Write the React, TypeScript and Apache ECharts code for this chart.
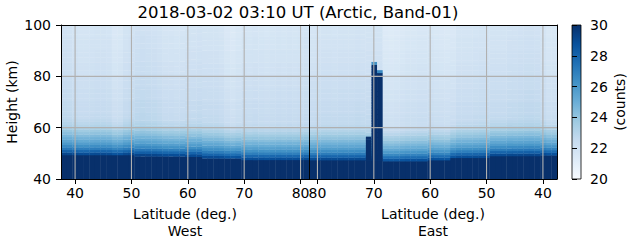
import React, { useEffect, useRef } from "react";
import * as echarts from "echarts";

// Latitude bins (deg.), 1-degree columns, same for both halves
const latitudes = [38, 39, 40, 41, 42, 43, 44, 45, 46, 47, 48, 49, 50, 51, 52, 53, 54, 55, 56, 57, 58, 59,
  60, 61, 62, 63, 64, 65, 66, 67, 68, 69, 70, 71, 72, 73, 74, 75, 76, 77, 78, 79, 80, 81];

// Height (km) where the saturated (30 counts) layer ends, per latitude bin
const westFloor = [49.4, 49.4, 49.4, 49.4, 49.4, 49.4, 49.4, 49.4, 49.4, 49.4, 49.4, 49.4, 49.4,
  48.9, 48.9, 48.9, 48.9, 48.9, 48.9, 48.9, 48.9, 48.9,
  48.7, 48.7, 48.7,
  48.1, 48.1, 48.1, 48.1, 48.1, 48.1, 48.1,
  47.5, 47.5, 47.5, 47.5, 47.5, 47.5, 47.5, 47.5, 47.5, 47.5, 47.5, 47.5];
const eastFloor = [49.3, 49.3, 49.3,
  49.0, 49.0, 49.0, 49.0, 49.0, 49.0, 49.0, 49.0, 49.0,
  48.3, 48.3, 48.3, 48.3, 48.3, 48.3, 48.3,
  47.4, 47.4, 47.4, 47.4,
  47.0, 47.0, 47.0, 47.0, 47.0, 47.0, 47.0, 47.0,
  47.2, 47.2, 47.2,
  47.4, 47.4, 47.4, 47.4, 47.4, 47.4, 47.4, 47.4, 47.4, 47.4];

// Column-to-column brightness shift (counts), per latitude bin
const westShade = [0.15, 0.1, 0.0, -0.1, -0.1, -0.05, 0.0, 0.0, -0.05, -0.35, -0.3, 0.0, 0.1, 0.2, 0.25,
  0.2, 0.15, 0.05, -0.1, -0.1, -0.15, -0.1, 0.0, 0.0, 0.05, 0.0, 0.0, 0.0, -0.1, -0.35, -0.45, -0.3,
  -0.1, -0.15, -0.1, -0.15, -0.2, -0.15, -0.1, -0.15, -0.1, -0.15, -0.1, -0.05];
const eastShade = [-0.3, -0.3, -0.1, 0.15, 0.2, 0.2, 0.15, 0.1, 0.1, 0.0, 0.0, 0.0, 0.0, 0.0, -0.05,
  -0.1, -0.1, -0.1, -0.35, -0.4, -0.35, -0.3, -0.2, -0.25, -0.25, -0.3, -0.3, -0.4, -0.5, -0.55, -0.5,
  0.0, 0.0, 0.0, 0.0, 0.05, 0.0, 0.0, 0.0, -0.05, 0.0, 0.0, -0.05, -0.1];

// Counts in the 1-km rows just above the saturated layer (index = km above it)
const gradientAboveFloor = [29.0, 28.0, 27.1, 26.4, 25.8, 25.3, 24.9, 24.5, 24.1, 23.8, 23.4, 23.1, 22.9, 22.75, 22.6, 22.5];

// Background counts per 1-km height row, 40 .. 99 km
const backgroundByHeight = [
  22.7, 22.7, 22.7, 22.7, 22.7, 22.7, 22.7, 22.7, 22.7, 22.7,
  22.7, 22.7, 22.7, 22.7, 22.7, 22.7, 22.7, 22.7, 22.7, 22.7,
  22.6, 22.6, 22.6, 22.6, 22.6, 22.5, 22.5, 22.5, 22.5, 22.5,
  22.35, 22.35, 22.35, 22.35, 22.35, 22.25, 22.25, 22.25, 22.25, 22.25,
  22.1, 22.1, 22.1, 22.1, 22.1, 22.0, 22.0, 22.0, 22.0, 22.0,
  21.9, 21.9, 21.9, 21.9, 21.9, 21.8, 21.8, 21.8, 21.8, 21.8];

// Saturated spike near 70 deg East
const spikeLats = [71, 70, 69];
const spikeTops = [56.5, 85.6, 82.4];
const spikeCaps = [30, 26.3, 26.6];

const latTicks = [40, 50, 60, 70, 80];
const heightGridLines = [60, 80];
const colorbarTicks = [20, 22, 24, 26, 28, 30];

const blues = ["#f7fbff", "#deebf7", "#c6dbef", "#9ecae1", "#6baed6", "#4292c6", "#2171b5", "#08519c", "#08306b"];

const FONT = "DejaVu Sans";

function buildCells(floors: number[], shades: number[], sLats: number[], sTops: number[], sCaps: number[]) {
  const cells: number[][] = [];
  latitudes.forEach((lat, i) => {
    const floor = floors[i];
    const shade = shades[i];
    cells.push([lat, 40, floor, 30]);
    let k = 0;
    for (let b = floor; b < 100; b += 1, k++) {
      const t = Math.min(b + 1, 100);
      const g = k < gradientAboveFloor.length ? gradientAboveFloor[k] : 0;
      const bg = backgroundByHeight[Math.min(59, Math.floor(b) - 40)];
      let v = Math.max(g, bg) + shade;
      v = Math.max(20, Math.min(30, v));
      cells.push([lat, b, t, v]);
    }
    const si = sLats.indexOf(lat);
    if (si >= 0) {
      cells.push([lat, floor, sTops[si] - 1, 30]);
      cells.push([lat, sTops[si] - 1, sTops[si], sCaps[si]]);
    }
  });
  return cells;
}

const westCells = buildCells(westFloor, westShade, [], [], []);
const eastCells = buildCells(eastFloor, eastShade, spikeLats, spikeTops, spikeCaps);

const cellRender = (params: any, api: any) => {
  const lat = api.value(0);
  const b = api.value(1);
  const t = api.value(2);
  const p1 = api.coord([lat - 0.5, t]);
  const p2 = api.coord([lat + 0.5, b]);
  const x = Math.min(p1[0], p2[0]);
  const y = Math.min(p1[1], p2[1]);
  return {
    type: "rect",
    shape: { x, y, width: Math.abs(p2[0] - p1[0]) + 0.4, height: Math.abs(p2[1] - p1[1]) + 0.4 },
    style: { fill: api.visual("color") },
  };
};

const gridLineRender = (params: any, api: any) => {
  const kind = api.value(0);
  const v = api.value(1);
  let a, c;
  if (kind === 0) {
    a = api.coord([v, 40]);
    c = api.coord([v, 100]);
  } else {
    a = api.coord([37.5, v]);
    c = api.coord([81.5, v]);
  }
  return {
    type: "line",
    shape: { x1: a[0], y1: a[1], x2: c[0], y2: c[1] },
    style: { stroke: "#b0b0b0", lineWidth: 1.1 },
  };
};

const gridLineData = [
  ...latTicks.map((v) => [0, v]),
  ...heightGridLines.map((v) => [1, v]),
];

export default function App() {
  const ref = useRef<HTMLDivElement>(null);

  useEffect(() => {
    document.body.style.margin = "0";
    if (!ref.current) return;
    const chart = echarts.init(ref.current, undefined, { renderer: "svg" });

    const labelStyle = { color: "#000", fontFamily: FONT, fontSize: 14 };
    const lineOnly = (extra: any) => ({
      type: "value",
      min: 37.5,
      max: 81.5,
      axisLine: { show: true, lineStyle: { color: "#000", width: 1 } },
      axisTick: { show: false },
      axisLabel: { show: false },
      splitLine: { show: false },
      z: 10,
      ...extra,
    });

    const latAxis = (gridIndex: number, inverse: boolean) => ({
      type: "value",
      gridIndex,
      min: 37.5,
      max: 81.5,
      inverse,
      position: "bottom",
      axisLine: { show: true, onZero: false, lineStyle: { color: "#000", width: 1 } },
      axisTick: { show: true, length: 5, customValues: latTicks, lineStyle: { color: "#000" } },
      axisLabel: { show: true, margin: 7, customValues: latTicks, ...labelStyle },
      splitLine: { show: false },
      z: 10,
    });

    const option: any = {
      animation: false,
      backgroundColor: "#fff",
      grid: [
        { left: 61, top: 25, width: 248, height: 154 },
        { left: 309, top: 25, width: 248, height: 154 },
        { left: 572, top: 25, width: 9, height: 154 },
      ],
      xAxis: [
        latAxis(0, false),
        latAxis(1, true),
        lineOnly({ gridIndex: 0, position: "top" }),
        lineOnly({ gridIndex: 1, position: "top", inverse: true }),
        { type: "value", gridIndex: 2, min: 0, max: 1, show: false },
      ],
      yAxis: [
        {
          type: "value",
          gridIndex: 0,
          min: 40,
          max: 100,
          interval: 20,
          position: "left",
          axisLine: { show: true, onZero: false, lineStyle: { color: "#000", width: 1 } },
          axisTick: { show: true, length: 5, lineStyle: { color: "#000" } },
          axisLabel: { show: true, margin: 10, ...labelStyle },
          splitLine: { show: false },
          z: 10,
        },
        {
          type: "value",
          gridIndex: 1,
          min: 40,
          max: 100,
          interval: 20,
          position: "left",
          axisLine: { show: true, onZero: false, lineStyle: { color: "#000", width: 1 } },
          axisTick: { show: false },
          axisLabel: { show: false },
          splitLine: { show: false },
          z: 10,
        },
        {
          type: "value",
          gridIndex: 1,
          min: 40,
          max: 100,
          interval: 20,
          position: "right",
          axisLine: { show: true, onZero: false, lineStyle: { color: "#000", width: 1 } },
          axisTick: { show: false },
          axisLabel: { show: false },
          splitLine: { show: false },
          z: 10,
        },
        {
          type: "value",
          gridIndex: 2,
          min: 20,
          max: 30,
          interval: 2,
          position: "right",
          axisLine: { show: false },
          axisTick: { show: true, length: 5, lineStyle: { color: "#000" } },
          axisLabel: { show: true, margin: 9, ...labelStyle },
          splitLine: { show: false },
          z: 10,
        },
      ],
      visualMap: {
        type: "continuous",
        show: false,
        min: 20,
        max: 30,
        dimension: 3,
        seriesIndex: [0, 1],
        inRange: { color: blues },
      },
      series: [
        {
          type: "custom",
          name: "West",
          xAxisIndex: 0,
          yAxisIndex: 0,
          clip: true,
          z: 2,
          renderItem: cellRender,
          data: westCells,
          silent: true,
        },
        {
          type: "custom",
          name: "East",
          xAxisIndex: 1,
          yAxisIndex: 1,
          clip: true,
          z: 2,
          renderItem: cellRender,
          data: eastCells,
          silent: true,
        },
        {
          type: "custom",
          xAxisIndex: 0,
          yAxisIndex: 0,
          z: 5,
          renderItem: gridLineRender,
          data: gridLineData,
          silent: true,
        },
        {
          type: "custom",
          xAxisIndex: 1,
          yAxisIndex: 1,
          z: 5,
          renderItem: gridLineRender,
          data: gridLineData,
          silent: true,
        },
        {
          type: "custom",
          xAxisIndex: 4,
          yAxisIndex: 3,
          z: 5,
          silent: true,
          data: [[0]],
          renderItem: (params: any, api: any) => {
            const a = api.coord([0, colorbarTicks[colorbarTicks.length - 1]]);
            const c = api.coord([1, colorbarTicks[0]]);
            return {
              type: "rect",
              shape: { x: a[0], y: a[1], width: c[0] - a[0], height: c[1] - a[1] },
              style: {
                fill: new echarts.graphic.LinearGradient(
                  0, 1, 0, 0,
                  blues.map((col, i) => ({ offset: i / (blues.length - 1), color: col }))
                ),
                stroke: "#000",
                lineWidth: 0.8,
              },
            };
          },
        },
      ],
      graphic: [
        {
          type: "text",
          x: 298,
          y: 12,
          style: {
            text: "2018-03-02 03:10 UT (Arctic, Band-01)",
            fontFamily: FONT,
            fontSize: 16.5,
            fill: "#000",
            align: "center",
            verticalAlign: "middle",
          },
        },
        {
          type: "text",
          x: 12,
          y: 102,
          rotation: Math.PI / 2,
          style: { text: "Height (km)", fontFamily: FONT, fontSize: 14, fill: "#000", align: "center", verticalAlign: "middle" },
        },
        {
          type: "text",
          x: 185,
          y: 214,
          style: { text: "Latitude (deg.)", fontFamily: FONT, fontSize: 14, fill: "#000", align: "center", verticalAlign: "middle" },
        },
        {
          type: "text",
          x: 185,
          y: 231,
          style: { text: "West", fontFamily: FONT, fontSize: 14, fill: "#000", align: "center", verticalAlign: "middle" },
        },
        {
          type: "text",
          x: 433,
          y: 214,
          style: { text: "Latitude (deg.)", fontFamily: FONT, fontSize: 14, fill: "#000", align: "center", verticalAlign: "middle" },
        },
        {
          type: "text",
          x: 433,
          y: 231,
          style: { text: "East", fontFamily: FONT, fontSize: 14, fill: "#000", align: "center", verticalAlign: "middle" },
        },
        {
          type: "text",
          x: 620,
          y: 102,
          rotation: Math.PI / 2,
          style: { text: "(counts)", fontFamily: FONT, fontSize: 14, fill: "#000", align: "center", verticalAlign: "middle" },
        },
      ],
    };

    chart.setOption(option);
    return () => chart.dispose();
  }, []);

  return (
    <div
      ref={ref}
      style={{ position: "absolute", left: 0, top: 0, width: 631, height: 243 }}
    />
  );
}
